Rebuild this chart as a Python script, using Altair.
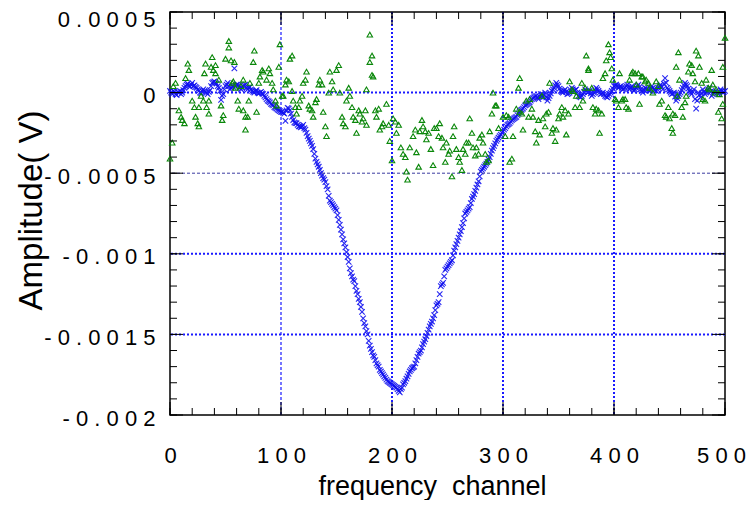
import altair as alt
import pandas as pd

# ---------------- data (amplitudes in units of 1e-4 V) ----------------
# blue crosses, even channels 0, 2, ..., 500
BLUE_EVEN_AMP_1E4 = [
    0.1, -0.1, 0.05, -0.15, 0.0, -0.1, 0.15, 0.4, 0.55, 0.35,
    0.6, 0.45, 0.3, 0.1, -0.05, 0.2, 0.05, -0.1, 0.15, 0.6,
    0.7, 0.55, 0.3, -0.45, -0.1, 0.4, 0.6, 0.2, 0.45, 1.5,
    0.5, 0.45, 0.2, 0.4, 0.5, 0.2, 0.35, 0.1, 0.0, 0.15,
    -0.05, 0.05, -0.1, -0.3, -0.5, -0.6, -0.75, -0.9, -1.0, -1.1,
    -1.2, -1.25, -1.75, -0.95, -1.1, -1.5, -1.85, -1.9, -2.1, -2.15,
    -2.0, -2.3, -2.7, -3.0, -3.3, -3.8, -4.3, -4.6, -5.0, -5.3,
    -5.55, -6.0, -6.7, -6.9, -7.1, -7.3, -7.9, -8.5, -9.1, -9.6,
    -10.2, -10.9, -11.4, -11.7, -12.3, -12.8, -13.3, -14.0, -14.5, -15.0,
    -15.7, -16.1, -16.4, -16.8, -17.0, -17.3, -17.5, -17.7, -17.9, -18.0,
    -18.1, -18.2, -18.3, -18.5, -18.4, -18.1, -17.9, -17.6, -17.3, -17.1,
    -17.0, -16.6, -16.2, -16.0, -15.6, -15.3, -14.9, -14.5, -14.2, -13.8,
    -13.2, -13.0, -12.0, -11.8, -11.0, -10.8, -10.6, -10.4, -9.8, -9.4,
    -9.0, -8.6, -8.1, -7.5, -7.3, -7.1, -6.6, -6.3, -5.9, -5.5,
    -4.9, -4.7, -4.5, -4.3, -4.0, -3.6, -3.3, -3.0, -2.8, -2.6,
    -2.4, -2.2, -2.0, -1.9, -1.7, -1.6, -1.5, -1.3, -1.1, -1.0,
    -0.8, -0.7, -0.6, -0.4, -0.3, -0.2, -0.4, -0.1, -0.3, 0.0,
    -0.5, -0.2, 0.1, 0.3, 0.6, 0.4, 0.1, 0.0, 0.2, -0.1,
    0.0, 0.3, 0.1, 0.2, -0.2, -0.3, -0.1, 0.2, 0.0, 0.1,
    -0.2, 0.0, 0.3, 0.1, -0.1, 0.0, -0.2, -0.3, -0.1, 0.1,
    0.4, 0.5, 0.3, 0.4, 0.2, 0.3, 0.5, 0.2, 0.4, 0.1,
    0.3, 0.5, 0.2, 0.0, 0.3, 0.2, 0.1, 0.4, 0.2, 0.1,
    0.3, 0.5, 0.2, 0.9, 0.3, 0.1, -0.1, 0.0, -0.5, -0.2,
    0.0, 0.3, 0.6, 0.4, 0.1, -0.1, 0.2, -1.0, 0.0, -0.3,
    0.2, -0.1, 0.1, 0.3, -0.2, 0.0, 0.1, -0.1, 0.2, 0.0,
    0.1,
]
# blue crosses, odd channels 1, 3, ..., 499
BLUE_ODD_AMP_1E4 = [
    0.0, 0.1, -0.1, 0.05, 0.1, 0.0, 0.3, 0.5, 0.45, 0.5,
    0.4, 0.35, 0.2, 0.0, 0.1, 0.1, 0.0, 0.05, 0.4, 0.65,
    0.6, 0.4, 0.1, -0.2, 0.2, 0.5, 0.4, 0.3, 0.35, 0.4,
    0.5, 0.3, 0.3, 0.45, 0.3, 0.3, 0.2, 0.05, 0.1, 0.0,
    0.0, -0.05, -0.2, -0.4, -0.55, -0.7, -0.8, -0.95, -1.05, -1.15,
    -1.2, -1.3, -1.1, -1.0, -1.3, -1.7, -1.9, -2.0, -2.1, -2.1,
    -2.2, -2.5, -2.85, -3.15, -3.5, -4.1, -4.45, -4.8, -5.15, -5.4,
    -5.8, -6.4, -6.8, -7.0, -7.2, -7.6, -8.2, -8.8, -9.35, -9.9,
    -10.5, -11.2, -11.6, -12.0, -12.5, -13.0, -13.6, -14.3, -14.8, -15.4,
    -15.9, -16.3, -16.6, -16.9, -17.2, -17.4, -17.6, -17.8, -17.95, -18.05,
    -18.15, -18.25, -18.4, -18.6, -18.3, -18.0, -17.75, -17.45, -17.2, -17.05,
    -16.8, -16.4, -16.1, -15.8, -15.45, -15.1, -14.7, -14.35, -14.0, -13.5,
    -13.1, -12.5, -11.9, -11.4, -10.9, -10.7, -10.5, -10.1, -9.6, -9.2,
    -8.8, -8.35, -7.8, -7.4, -7.2, -6.85, -6.45, -6.1, -5.7, -5.2,
    -4.8, -4.6, -4.4, -4.15, -3.8, -3.45, -3.15, -2.9, -2.7, -2.5,
    -2.3, -2.1, -1.95, -1.8, -1.65, -1.55, -1.4, -1.2, -1.05, -0.9,
    -0.75, -0.65, -0.5, -0.35, -0.25, -0.3, -0.25, -0.2, -0.15, -0.3,
    -0.35, -0.05, 0.2, 0.45, 0.5, 0.25, 0.05, 0.1, 0.05, -0.05,
    0.15, 0.2, 0.15, 0.0, -0.25, -0.2, 0.05, 0.1, 0.05, -0.05,
    -0.1, 0.15, 0.2, 0.0, -0.05, -0.1, -0.25, -0.2, 0.0, 0.25,
    0.45, 0.4, 0.35, 0.3, 0.25, 0.4, 0.35, 0.3, 0.25, 0.2,
    0.4, 0.35, 0.1, 0.15, 0.25, 0.15, 0.25, 0.3, 0.15, 0.2,
    0.4, 0.35, 0.55, 0.6, 0.2, 0.0, -0.05, -0.25, -0.35, -0.1,
    0.15, 0.45, 0.5, 0.25, 0.0, 0.05, -0.4, -0.5, -0.15, -0.05,
    0.05, 0.0, 0.2, 0.05, -0.1, 0.05, 0.0, 0.05, 0.1, 0.05,
]

GREEN_CH = [
    0, 2, 3, 5, 8, 10, 11, 13, 14, 16, 17, 20, 22, 23, 25, 26, 26, 28, 30, 31,
    32, 33, 35, 35, 37, 38, 39, 41, 41, 44, 46, 47, 48, 50, 53, 53, 55, 56, 57, 58,
    59, 61, 62, 64, 66, 66, 68, 68, 70, 71, 72, 75, 76, 78, 80, 81, 83, 84, 87, 89,
    90, 92, 93, 95, 96, 98, 99, 101, 102, 104, 105, 107, 108, 110, 110, 111, 113, 114, 116, 117,
    119, 120, 122, 123, 125, 126, 128, 129, 131, 132, 134, 135, 137, 138, 140, 141, 143, 144, 146, 147,
    150, 152, 153, 155, 156, 158, 159, 161, 162, 164, 165, 167, 168, 170, 171, 173, 174, 176, 177, 177,
    180, 180, 182, 182, 183, 185, 186, 188, 189, 191, 192, 195, 197, 198, 200, 201, 203, 204, 206, 208,
    210, 212, 213, 214, 216, 219, 221, 222, 224, 225, 227, 228, 230, 231, 233, 235, 237, 238, 240, 242,
    243, 245, 246, 248, 249, 251, 252, 254, 255, 256, 258, 260, 261, 263, 264, 266, 267, 269, 270, 272,
    273, 275, 276, 278, 279, 281, 282, 284, 285, 287, 288, 290, 291, 293, 294, 296, 300, 302, 303, 305,
    306, 308, 309, 312, 314, 315, 315, 317, 318, 321, 323, 324, 326, 327, 329, 330, 332, 333, 335, 336,
    338, 339, 341, 342, 344, 345, 347, 348, 350, 351, 353, 354, 356, 357, 359, 360, 362, 363, 365, 366,
    369, 371, 372, 374, 375, 377, 377, 380, 381, 383, 384, 386, 387, 389, 390, 392, 393, 395, 396, 397,
    398, 399, 401, 402, 404, 405, 407, 408, 410, 411, 413, 414, 416, 417, 419, 420, 422, 423, 425, 426,
    428, 429, 431, 432, 435, 438, 440, 441, 443, 446, 447, 449, 450, 452, 453, 453, 455, 456, 457, 458,
    459, 461, 462, 464, 465, 467, 468, 470, 471, 473, 474, 476, 477, 479, 480, 482, 483, 485, 486, 488,
    489, 491, 492, 494, 495, 497, 498, 498, 500,
]
GREEN_AMP_1E4 = [
    -4.1, -3.1, 0.4, 0.6, -1.1, -1.5, -1.7, -1.9, 0.9, 1.8, 1.4, -0.5, -0.9, -1.5, -1.9, -2.1, -0.9, -0.2, -0.5, 1.2,
    1.8, -0.9, -1.3, -0.5, 1.6, 2.2, 1.4, 1.7, 1.2, 0.8, -0.8, -1.7, -1.4, 2.1, 3.2, 2.8, 2.0, 0.6, 0.7, 1.9,
    0.3, -0.5, -1.0, 0.4, 0.8, -1.1, -2.3, -1.5, -1.5, -0.5, 0.6, 1.9, 2.6, -1.2, 0.6, 1.0, 1.4, 1.3, 0.8, 1.5,
    1.2, 0.6, 0.2, -0.5, -0.8, 1.6, 3.0, -0.2, -0.2, 0.5, 0.8, 0.7, 2.1, 2.3, 0.1, -0.5, -0.9, -1.3, -0.9, -0.5,
    -0.2, 0.6, 0.8, 1.3, -0.8, -1.0, -1.1, -1.5, -0.6, -0.4, 0.5, 0.8, 0.5, -1.2, -2.1, -2.7, 0.0, 1.3, 0.7, 0.2,
    1.4, 1.7, 0.0, -1.5, -1.9, -2.1, -0.5, 0.3, -0.2, -0.9, -1.5, -1.7, -2.5, -1.1, -1.3, -1.8, -1.6, -1.1, -2.0, 0.2,
    3.6, 1.9, 2.3, 1.1, 1.0, -1.1, -1.5, -1.0, -2.3, -2.1, -1.9, -0.7, -2.0, -3.0, -4.2, -1.6, -1.8, -2.5, -2.0, -3.4,
    -3.8, -4.0, -4.9, -5.4, -3.4, -2.7, -2.3, -3.7, -4.6, -2.4, -1.7, -2.1, -2.4, -2.9, -2.5, -3.5, -4.5, -2.2, -2.2, -2.7,
    -1.9, -2.8, -3.4, -4.3, -3.1, -3.8, -3.6, -5.2, -2.7, -2.1, -3.5, -4.0, -4.3, -4.8, -3.5, -3.8, -3.1, -3.1, -1.6, -2.5,
    -3.4, -3.9, -3.4, -3.8, -2.8, -2.6, -3.1, -3.8, -4.3, -4.2, -2.4, -1.3, 0.0, -0.8, -0.8, -2.2, -1.5, -2.7, -1.4, -1.5,
    -4.3, -4.1, -2.7, -1.0, 0.3, 0.9, -1.2, -1.3, -2.3, -0.5, -1.5, -0.4, -1.0, -1.5, -2.4, -3.1, -1.7, -2.6, -0.2, -1.6,
    -2.1, -1.3, -1.2, 0.6, -2.5, -2.2, -3.0, -2.3, -1.6, -1.3, -0.9, -1.5, -1.1, -2.6, -1.3, 0.7, 0.2, 0.1, -0.9, -0.2,
    -0.9, 0.6, -0.5, 0.3, 2.3, 1.5, 1.4, 0.3, -0.9, -1.3, -1.0, -1.1, -2.5, -1.3, 0.9, 1.2, 2.0, 3.0, 2.5, 2.2,
    1.5, 0.8, -0.4, -0.5, -0.9, 1.2, -0.5, -0.4, -0.4, -0.9, -1.0, 0.8, 1.2, 1.3, 1.2, 0.5, 1.2, -0.7, 1.0, 1.0,
    0.7, 0.8, 0.6, 0.3, 0.0, 0.7, 0.4, -0.7, -0.5, -1.4, -1.5, -0.9, -1.6, -2.2, -2.5, -1.3, -1.4, 1.6, -0.2, 2.5,
    0.8, -0.9, -1.5, -0.6, -0.2, 1.3, 1.8, 1.7, 1.2, 0.7, 2.6, 2.3, 1.6, 0.6, -0.4, -0.5, 0.8, 0.3, 0.2, 1.4,
    0.5, 0.0, 0.2, -1.2, -0.1, -1.6, -0.7, 1.6, 3.4,
]

X_TICK_VALUES = [0, 100, 200, 300, 400, 500]
X_TICK_LABELS = ["0", "1 0 0", "2 0 0", "3 0 0", "4 0 0", "5 0 0"]
Y_TICK_VALUES = [0.0005, 0, -0.0005, -0.001, -0.0015, -0.002]
Y_TICK_LABELS = ["0 . 0 0 0 5", "0", "- 0 . 0 0 0 5", "- 0 . 0 0 1", "- 0 . 0 0 1 5", "- 0 . 0 0 2"]
X_MINOR_STEP = 20
Y_MINOR_STEP = 0.0001
X_GRID_BOLD = [200, 300, 400]
X_GRID_THIN = [100]
Y_GRID_BOLD = [0, -0.001, -0.0015]
Y_GRID_THIN = [-0.0005]

X_TITLE = "frequency\u00a0 channel"
Y_TITLE = "Amplitude(\u00a0V)"

# ---------------- build tables ----------------
blue_ch = [2 * i for i in range(len(BLUE_EVEN_AMP_1E4))] + [2 * i + 1 for i in range(len(BLUE_ODD_AMP_1E4))]
blue_amp = BLUE_EVEN_AMP_1E4 + BLUE_ODD_AMP_1E4
blue_df = pd.DataFrame({"ch": blue_ch, "amp": [v * 1e-4 for v in blue_amp]})
green_df = pd.DataFrame({"ch": GREEN_CH, "amp": [v * 1e-4 for v in GREEN_AMP_1E4]})

W, H = 555, 403
FONT = "Liberation Sans"
MAJ, MIN = 13, 7


def label_expr(values, labels):
    expr = "''"
    for v, lab in reversed(list(zip(values, labels))):
        expr = f"(abs(datum.value - ({v!r})) < 1e-9 ? '{lab}' : {expr})"
    return expr


xs = alt.Scale(domain=[0, 500], nice=False, zero=False)
ys = alt.Scale(domain=[-0.002, 0.0005], nice=False, zero=False)

x_axis = alt.Axis(
    values=X_TICK_VALUES, labelExpr=label_expr(X_TICK_VALUES, X_TICK_LABELS),
    grid=False, ticks=False, tickSize=0,
    domain=False, labelFont=FONT, labelFontSize=22, labelColor="black",
    labelPadding=47, labelBaseline="alphabetic", labelFlush=False, labelOverlap=False,
    labelOffset={"condition": {"test": "datum.value > 450", "value": -4}, "value": 0},
    title=X_TITLE, titleFont=FONT, titleFontSize=27, titleFontWeight="normal",
    titleColor="black", titleX=262, titleY=79, titleBaseline="alphabetic",
    titleAlign="center",
)
y_axis = alt.Axis(
    values=Y_TICK_VALUES, labelExpr=label_expr(Y_TICK_VALUES, Y_TICK_LABELS),
    grid=False, ticks=False, tickSize=0,
    domain=False, labelFont=FONT, labelFontSize=22, labelColor="black",
    labelPadding=15, labelBaseline="middle", labelFlush=False, labelOverlap=False,
    labelOffset={"condition": {"test": "datum.value > 0.0004", "value": 7}, "value": 3},
    title=Y_TITLE, titleFont=FONT, titleFontSize=33, titleFontWeight="normal",
    titleColor="black", titleX=-139, titleY=198, titleAngle=270,
    titleBaseline="middle", titleAlign="center",
)

GRID_COLOR = "#1a1aff"


def X(field):
    return alt.X(field, type="quantitative", scale=xs, axis=x_axis)


def Y(field):
    return alt.Y(field, type="quantitative", scale=ys, axis=y_axis)


def vgrid(vals, width, dash, color):
    return alt.Chart(pd.DataFrame({"v": vals})).mark_rule(
        color=color, strokeWidth=width, strokeDash=dash
    ).encode(x=X("v"))


def hgrid(vals, width, dash, color):
    return alt.Chart(pd.DataFrame({"v": vals})).mark_rule(
        color=color, strokeWidth=width, strokeDash=dash
    ).encode(y=Y("v"))


x_minor = [i * X_MINOR_STEP for i in range(int(500 / X_MINOR_STEP) + 1)]
y_minor = [round(-0.002 + i * Y_MINOR_STEP, 6) for i in range(26)]


def xticks(vals, length):
    d = pd.DataFrame({"v": vals})
    base = alt.Chart(d).mark_rule(color="black", strokeWidth=1)
    bottom = base.encode(x=X("v"), y=alt.value(H), y2=alt.value(H - length))
    top = base.encode(x=X("v"), y=alt.value(0), y2=alt.value(length))
    return [bottom, top]


def yticks(vals, length):
    d = pd.DataFrame({"v": vals})
    base = alt.Chart(d).mark_rule(color="black", strokeWidth=1)
    left = base.encode(y=Y("v"), x=alt.value(0), x2=alt.value(length))
    right = base.encode(y=Y("v"), x=alt.value(W), x2=alt.value(W - length))
    return [left, right]


blue = alt.Chart(blue_df).mark_point(
    shape="M-1,-1L1,1M1,-1L-1,1", filled=False, color="#1010f0", strokeWidth=1.1,
    size=30, opacity=0.9,
).encode(x=X("ch"), y=Y("amp"))

green = alt.Chart(green_df).mark_point(
    shape="triangle-up", filled=False, color="#0a870a", strokeWidth=1.1, size=30, opacity=1,
).encode(x=X("ch"), y=Y("amp"))

layers = [
    blue,
    vgrid(X_GRID_THIN, 1.2, [3, 2], GRID_COLOR),
    vgrid(X_GRID_BOLD, 2, [2, 2], GRID_COLOR),
    hgrid(Y_GRID_THIN, 1, [3, 2], "#3a3aa0"),
    hgrid(Y_GRID_BOLD, 2, [2, 2], GRID_COLOR),
    green,
]
layers += xticks(x_minor, MIN) + xticks(X_TICK_VALUES, MAJ)
layers += yticks(y_minor, MIN) + yticks(Y_TICK_VALUES, MAJ)

chart = alt.layer(*layers).properties(
    width=W, height=H,
    autosize=alt.AutoSizeParams(type="none"),
    padding={"left": 162, "top": 4, "right": 21, "bottom": 85},
    background="white",
).configure_view(stroke="black", strokeWidth=1.5)

chart.save("out.html", embed_options={"renderer": "svg", "actions": False})
